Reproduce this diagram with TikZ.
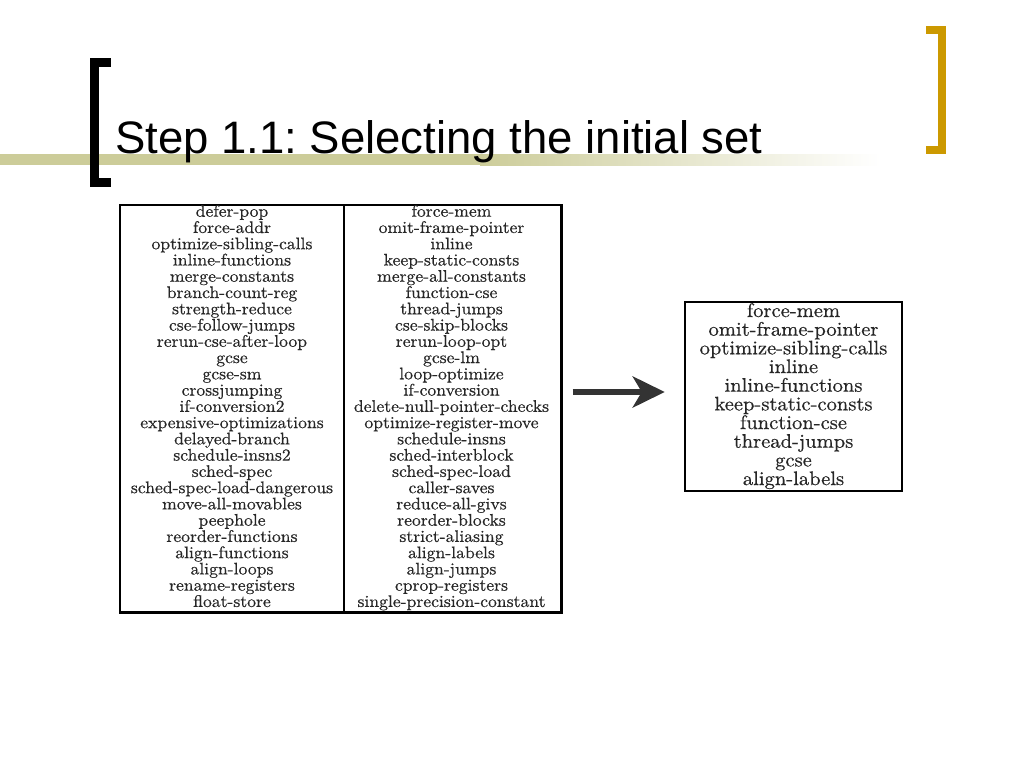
\documentclass[tikz,border=0pt]{standalone}
\usepackage{fontspec}
\newfontfamily\titlefont{Liberation Sans}
\newfontfamily\flagfont{lmroman10-regular}[Extension=.otf, FakeBold=0.5]
\usetikzlibrary{arrows.meta}

\definecolor{barolive}{RGB}{204,204,153}
\definecolor{bracketgold}{RGB}{204,153,0}
\definecolor{inkgray}{RGB}{51,51,51}

% flag names are set a little wide
\newcommand{\wideflag}[1]{\scalebox{1.05}[1]{#1}}

\tikzset{
  flag/.style={anchor=base, inner sep=0pt, text=black!85, font=\flagfont\fontsize{16.8}{17}\selectfont},
  pick/.style={flag, font=\flagfont\fontsize{19.6}{20}\selectfont},
  frame/.style={draw, line width=1.2pt, inner sep=0pt},
  heavy/.style={line width=2.5pt},
}

\begin{document}
\frenchspacing
\begin{tikzpicture}[x=1pt, y=-1pt]
  \useasboundingbox (0,0) rectangle (1024,768);

  % title bar
  \fill[barolive] (0,154) rectangle (480,165);
  \shade[left color=barolive, right color=white] (480,154) rectangle (880,165);
  \fill (90,58) rectangle (99,187);
  \fill (90,58) rectangle (111,67);
  \fill (90,178) rectangle (111,187);
  \fill[bracketgold] (938,26) rectangle (946,154);
  \fill[bracketgold] (926,26) rectangle (946,34);
  \fill[bracketgold] (926,146) rectangle (946,154);
  \node[anchor=base west, inner sep=0pt, font=\titlefont\fontsize{45.5}{50}\selectfont] (title) at (115,153) {Step 1.1: Selecting the initial set};

  % all flags
  \node[frame, minimum width=441pt, minimum height=407pt] (tab) at (340.5,408.5) {};
  \draw[heavy] (tab.north east) -- (tab.south east) -- (tab.south west);
  \draw[line width=2pt] ([xshift=3.5pt]tab.north) -- ([xshift=3.5pt]tab.south);
  \foreach \name [count=\i] in {defer-pop, force-addr, optimize-sibling-calls,
      inline-functions, merge-constants, branch-count-reg, strength-reduce,
      cse-follow-jumps, rerun-cse-after-loop, gcse, gcse-sm, crossjumping,
      if-conversion2, expensive-optimizations, delayed-branch, schedule-insns2,
      sched-spec, sched-spec-load-dangerous, move-all-movables, peephole,
      reorder-functions, align-functions, align-loops, rename-registers, float-store}
    \node[flag] (l\i) at (232, 216.7+16.26*\i-16.26) {\wideflag{\name}};
  \foreach \name [count=\i] in {force-mem, omit-frame-pointer, inline,
      keep-static-consts, merge-all-constants, function-cse, thread-jumps,
      cse-skip-blocks, rerun-loop-opt, gcse-lm, loop-optimize, if-conversion,
      delete-null-pointer-checks, optimize-register-move, schedule-insns,
      sched-interblock, sched-spec-load, caller-saves, reduce-all-givs,
      reorder-blocks, strict-aliasing, align-labels, align-jumps,
      cprop-registers, single-precision-constant}
    \node[flag] (r\i) at (451.5, 216.7+16.26*\i-16.26) {\wideflag{\name}};

  % selected set
  \node[draw, heavy, inner sep=0pt, minimum width=217pt, minimum height=189pt] (sel) at (793.5,396.5) {};
  \foreach \name [count=\i] in {force-mem, omit-frame-pointer, optimize-sibling-calls,
      inline, inline-functions, keep-static-consts, function-cse, thread-jumps,
      gcse, align-labels}
    \node[pick] (s\i) at (793.5, 317+18.67*\i-18.67) {\wideflag{\name}};

  \draw[inkgray, line width=6pt, -{Stealth[length=32pt, width=31pt, inset=9pt]},
    shorten <=11pt, shorten >=19pt] (tab.east |- 0,392) -- (sel.west |- 0,392);
\end{tikzpicture}
\end{document}
